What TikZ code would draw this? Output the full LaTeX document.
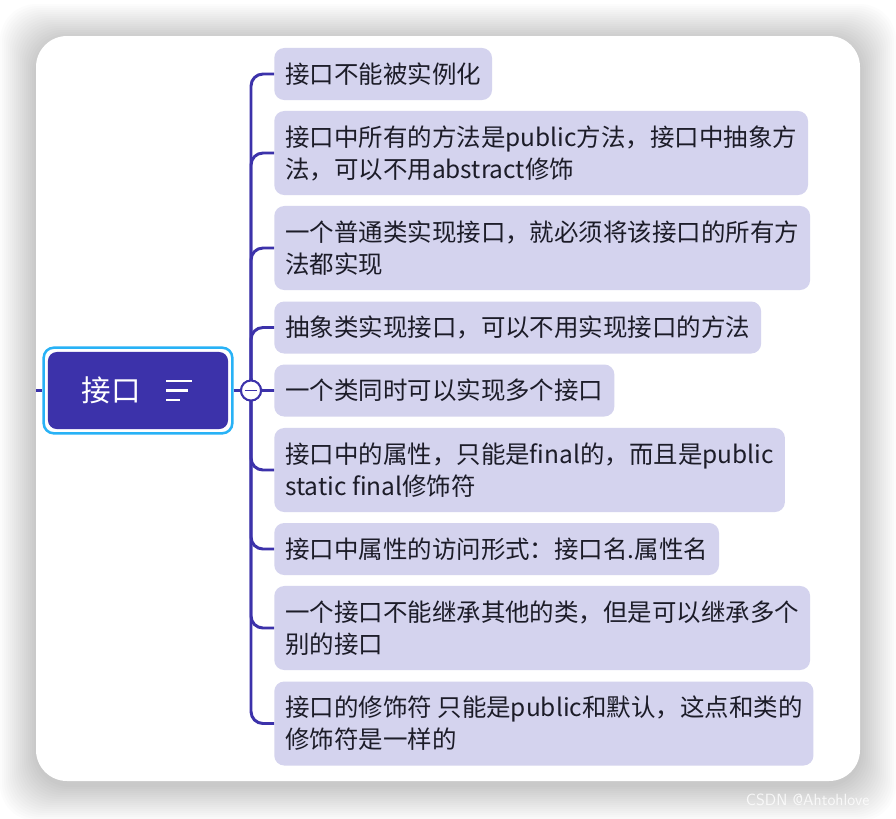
\documentclass[tikz,border=0pt]{standalone}
\usepackage{fontspec}
\newfontfamily\cjk{Noto Sans CJK SC}
\usetikzlibrary{fit}
\definecolor{ifcblue}{RGB}{60,50,170}
\definecolor{leaffill}{RGB}{212,211,238}
\definecolor{selcyan}{RGB}{40,178,246}
\definecolor{leaftext}{RGB}{28,28,40}
\begin{document}
\begin{tikzpicture}[x=0.025cm, y=-0.025cm,
    leaf/.style={rectangle, rounded corners=0.25cm, fill=leaffill, anchor=west,
        align=left, inner xsep=0.275cm, inner ysep=0.1cm, minimum height=1.3cm,
        text=leaftext, font={\cjk\fontsize{17.4}{22.8}\selectfont}},
    twoline/.style={leaf, minimum height=2.1cm},
    rootbox/.style={rectangle, rounded corners=0.22cm, fill=ifcblue, text=white,
        minimum width=4.5cm, minimum height=1.925cm,
        font={\cjk\fontsize{21}{24}\selectfont}},
    selframe/.style={draw=selcyan, line width=1.8pt, rounded corners=0.25cm, inner sep=0.1cm},
    branch/.style={draw=ifcblue, line width=2.1pt, rounded corners=0.3cm},
    hubdot/.style={circle, draw=ifcblue, line width=1.4pt, fill=white, minimum size=0.5cm, inner sep=0pt}]
    \useasboundingbox (0,0) rectangle (896,818);

    % Card with shadow
    \fill[white] (0,0) rectangle (896,818);
    \foreach \k in {1,...,18} {
        \fill[black, opacity=0.01, rounded corners=0.9cm] (36-2*\k,36-2*\k+4) rectangle (860+2*\k,781+2*\k+4);
    }
    \fill[white, rounded corners=0.775cm] (36,36) rectangle (860,781);
    \node[white, opacity=0.8, anchor=west, font={\sffamily\fontsize{11.5}{12}\selectfont}] (mark) at (741,800) {CSDN @Ahtohlove};

    % Root
    \node[rootbox] (root) at (138,390.5) {接口\hspace*{1.33cm}};
    \node[selframe, fit=(root)] (sel) {};
    \draw[white, line width=1.5pt] (166,381) -- (192,381);
    \draw[white, line width=1.5pt] (166,390.5) -- (188,390.5);
    \draw[white, line width=1.5pt] (166,400) -- (180,400);
    \coordinate (in) at (36,390.5);
    \node[hubdot] (hub) at (251,390.5) {};

    % Leaves
    \node[leaf] (b1) at (274,74) {接口不能被实例化};
    \node[twoline] (b2) at (274,153) {接口中所有的方法是public方法，接口中抽象方\\法，可以不用abstract修饰};
    \node[twoline] (b3) at (274,248) {一个普通类实现接口，就必须将该接口的所有方\\法都实现};
    \node[leaf] (b4) at (274,327.5) {抽象类实现接口，可以不用实现接口的方法};
    \node[leaf] (b5) at (274,390.5) {一个类同时可以实现多个接口};
    \node[twoline] (b6) at (274,470) {接口中的属性，只能是final的，而且是public\\static final修饰符};
    \node[leaf] (b7) at (274,549) {接口中属性的访问形式：接口名.属性名};
    \node[twoline] (b8) at (274,628) {一个接口不能继承其他的类，但是可以继承多个\\别的接口};
    \node[twoline] (b9) at (274,723.5) {接口的修饰符 只能是public和默认，这点和类的\\修饰符是一样的};

    % Connectors
    \draw[branch] (in) -- (sel.west);
    \draw[branch] (sel.east) -- (hub);
    \foreach \i in {1,...,9} {
        \draw[branch] (hub.center) |- (b\i.west);
    }
    \node[hubdot] at (hub) {};
    \draw[ifcblue, line width=1.4pt] ([xshift=0.12cm]hub.west) -- ([xshift=-0.12cm]hub.east);
\end{tikzpicture}
\end{document}
